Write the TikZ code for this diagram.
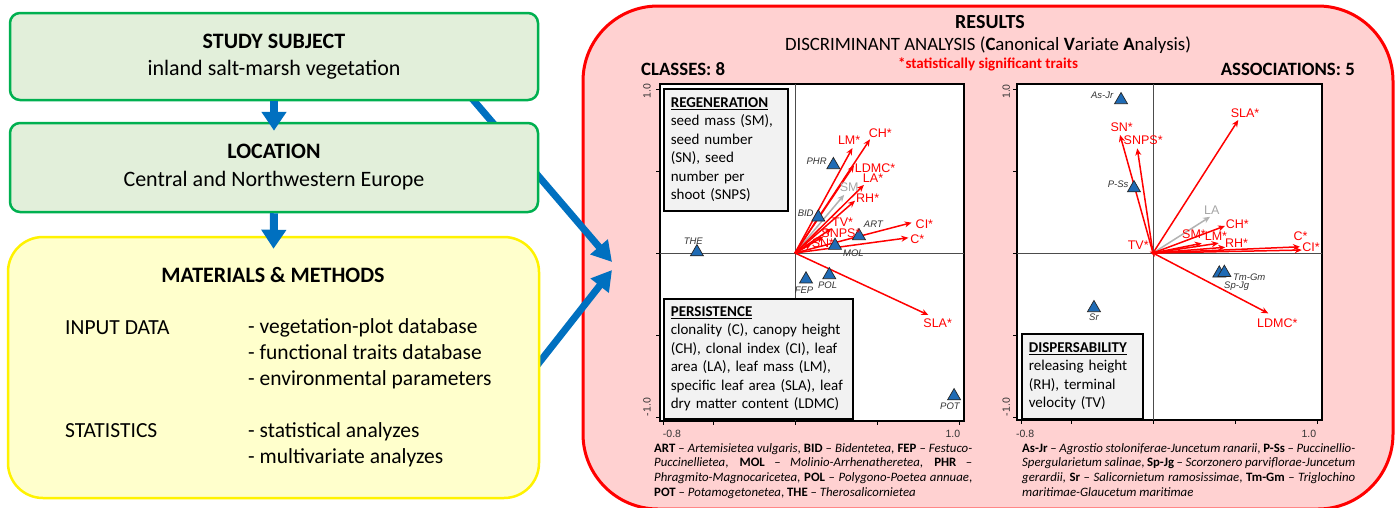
\documentclass[tikz,border=0pt]{standalone}
\usepackage{fontspec}
\setmainfont{Carlito}
\newfontfamily\plotfont{Liberation Sans}
\usetikzlibrary{arrows.meta,shapes.geometric,positioning}

\definecolor{flowblue}{HTML}{0070C0}
\definecolor{stagegreen}{HTML}{00B050}
\definecolor{stagefill}{HTML}{E2EFDA}
\definecolor{methodsfill}{HTML}{FFFFCC}
\definecolor{resultsfill}{HTML}{FFD1D1}
\definecolor{siteblue}{HTML}{1F6BB5}

\begin{document}
\begin{tikzpicture}[x=1pt, y=-1pt,
    stage/.style={draw=stagegreen, line width=2.5pt, fill=stagefill, rounded corners=10pt, minimum width=528pt, align=center, font=\fontsize{22}{27}\selectfont},
    flowarrow/.style={draw=flowblue, line width=8pt, -{Triangle[width=24pt,length=19pt]}},
    flowdiag/.style={draw=flowblue, line width=7pt, -{Triangle[width=22pt,length=20pt]}},
    listtext/.style={anchor=west, inner sep=0pt, align=left, font=\fontsize{21.5}{26}\selectfont},
    plotframe/.style={draw=black, line width=1.5pt, fill=white},
    zeroline/.style={draw=black!70, line width=0.8pt},
    axistick/.style={draw=black, line width=1pt},
    ticklab/.style={font=\plotfont\fontsize{10.5}{12}\selectfont, text=black!80, inner sep=0pt},
    traitbox/.style={draw=black, line width=1.6pt, fill=black!5, anchor=north west, inner xsep=7pt, inner ysep=2pt, align=left, font=\fontsize{15}{18.5}\selectfont},
    site/.style={regular polygon, regular polygon sides=3, minimum size=15pt, inner sep=0pt, fill=siteblue, draw=black!85, line width=0.7pt},
    sitelab/.style={font=\plotfont\itshape\fontsize{9.5}{11}\selectfont, text=black!80, inner sep=0pt},
    vec/.style={draw=red, line width=1.5pt, -{Stealth[length=7pt,width=6pt]}},
    vecgray/.style={vec, draw=black!30},
    veclab/.style={font=\plotfont\fontsize{12.5}{14}\selectfont, text=red, inner sep=0pt},
    keytext/.style={anchor=north west, inner sep=0pt, align=justify, font=\fontsize{12.8}{14.7}\selectfont}]

\useasboundingbox (0,0) rectangle (1395,507);
\fill[white] (0,0) rectangle (1395,507);

\node[draw=red, line width=3pt, fill=resultsfill, rounded corners=75pt, minimum width=810pt, minimum height=503pt] (resultsbox) at (988,257.5) {};

\coordinate (subjectout) at (439,60);
\coordinate (methodsout) at (520,387);
\coordinate (in1) at (612,262);
\coordinate (in2) at (612,270);
\draw[flowdiag] (subjectout) -- (in1);
\draw[flowdiag] (methodsout) -- (in2);

\node[stage, minimum height=87pt] (subject) at (274,56.5) {\textbf{STUDY SUBJECT}\\inland salt-marsh vegetation};
\node[stage, minimum height=89pt] (location) at (274,167.5) {\textbf{LOCATION}\\[1pt]Central and Northwestern Europe};
\node[draw=yellow, line width=2.5pt, fill=methodsfill, rounded corners=35pt, minimum width=531pt, minimum height=261pt] (methods) at (273.5,367.5) {};

\draw[flowarrow] (subject.south) -- ([yshift=-9pt]location.north);
\draw[flowarrow] (location.south) -- ([yshift=-13pt]methods.north);

\node[font=\fontsize{22}{26}\selectfont\bfseries] (methodstitle) at (273,275) {MATERIALS \& METHODS};
\node[listtext] (inputdata) at (65,328) {INPUT DATA};
\node[listtext] (inputlist) at (248,354) {- vegetation-plot database\\- functional traits database\\- environmental parameters};
\node[listtext] (statistics) at (65,431) {STATISTICS};
\node[listtext] (statlist) at (248,444.5) {- statistical analyzes\\- multivariate analyzes};

\node[font=\fontsize{20}{22}\selectfont\bfseries] (resultstitle) at (990,22) {RESULTS};
\node[font=\fontsize{18.8}{20}\selectfont] (cva) at (988,45) {DISCRIMINANT ANALYSIS (\textbf{C}anonical \textbf{V}ariate \textbf{A}nalysis)};
\node[font=\fontsize{15}{15}\selectfont\bfseries, text=red] (signif) at (988,64) {*statistically significant traits};
\node[anchor=west, inner sep=0pt, font=\fontsize{18.8}{22}\selectfont\bfseries] (classes) at (641,69) {CLASSES: 8};
\node[anchor=east, inner sep=0pt, font=\fontsize{18.8}{22}\selectfont\bfseries] (assoc) at (1355,69) {ASSOCIATIONS: 5};

% classes
\begin{scope}[shift={(795,253)}, x=164pt, y=164pt]
  \draw[plotframe] (-0.823,-1.024) rectangle (1.03,1.03);
  \draw[zeroline] (-0.823,0) -- (1.03,0);
  \draw[zeroline] (0,-1.024) -- (0,1.03);
  \foreach \t in {-0.8,-0.5,0,0.5,1} \draw[axistick] (\t,-1.024) -- ++(0pt,-4pt);
  \foreach \t in {-1,-0.5,0,0.5,1} \draw[axistick] (-0.823,\t) -- ++(-4pt,0pt);
  \node[ticklab] (xmin1) at (-0.75,-1.10) {-0.8};
  \node[ticklab] (xmax1) at (0.963,-1.10) {1.0};
  \node[ticklab, rotate=90] (ymax1) at (-0.902,0.988) {1.0};
  \node[ticklab, rotate=90] (ymin1) at (-0.902,-0.939) {-1.0};

  \coordinate (o1) at (0,0);
  \coordinate (sm1) at (0.30,0.355);
  \coordinate (ch1) at (0.457,0.693);
  \coordinate (lm1) at (0.35,0.64);
  \coordinate (ldmc1) at (0.36,0.535);
  \coordinate (la1) at (0.42,0.415);
  \coordinate (rh1) at (0.366,0.319);
  \coordinate (tv1) at (0.224,0.15);
  \coordinate (snps1) at (0.173,0.10);
  \coordinate (sn1) at (0.10,0.055);
  \coordinate (ci1) at (0.711,0.185);
  \coordinate (c1) at (0.691,0.093);
  \coordinate (sla1) at (0.813,-0.378);
  \draw[vecgray] (o1) -- (sm1);
  \draw[vec] (o1) -- (ch1);
  \draw[vec] (o1) -- (lm1);
  \draw[vec] (o1) -- (ldmc1);
  \draw[vec] (o1) -- (la1);
  \draw[vec] (o1) -- (rh1);
  \draw[vec] (o1) -- (tv1);
  \draw[vec] (o1) -- (snps1);
  \draw[vec] (o1) -- (sn1);
  \draw[vec] (o1) -- (ci1);
  \draw[vec] (o1) -- (c1);
  \draw[vec] (o1) -- (sla1);

  \node[site] (the) at (-0.598,0.006) {};
  \node[site] (phr) at (0.234,0.537) {};
  \node[site] (bid) at (0.142,0.218) {};
  \node[site] (art) at (0.39,0.104) {};
  \node[site] (mol) at (0.244,0.045) {};
  \node[site] (fep) at (0.067,-0.16) {};
  \node[site] (pol) at (0.209,-0.134) {};
  \node[site] (pot) at (0.97,-0.872) {};
  \node[sitelab] (thelab) at (-0.62,0.073) {THE};
  \node[sitelab] (phrlab) at (0.132,0.561) {PHR};
  \node[sitelab] (bidlab) at (0.065,0.242) {BID};
  \node[sitelab] (artlab) at (0.478,0.177) {ART};
  \node[sitelab] (mollab) at (0.356,-0.002) {MOL};
  \node[sitelab] (feplab) at (0.055,-0.226) {FEP};
  \node[sitelab] (pollab) at (0.199,-0.199) {POL};
  \node[sitelab] (potlab) at (0.945,-0.933) {POT};

  \node[veclab, text=black!35] (sm1lab) at (0.33,0.40) {SM};
  \node[veclab] (ch1lab) at (0.52,0.73) {CH*};
  \node[veclab] (lm1lab) at (0.33,0.685) {LM*};
  \node[veclab] (ldmc1lab) at (0.488,0.52) {LDMC*};
  \node[veclab] (la1lab) at (0.476,0.455) {LA*};
  \node[veclab] (rh1lab) at (0.443,0.333) {RH*};
  \node[veclab] (tv1lab) at (0.29,0.185) {TV*};
  \node[veclab] (snps1lab) at (0.28,0.12) {SNPS*};
  \node[veclab] (sn1lab) at (0.17,0.058) {SN*};
  \node[veclab] (ci1lab) at (0.789,0.177) {CI*};
  \node[veclab] (c1lab) at (0.746,0.083) {C*};
  \node[veclab] (sla1lab) at (0.87,-0.425) {SLA*};
\end{scope}

% associations
\begin{scope}[shift={(1153,253)}, x=164pt, y=164pt]
  \draw[plotframe] (-0.829,-1.018) rectangle (1.03,1.03);
  \draw[zeroline] (-0.829,0) -- (1.03,0);
  \draw[zeroline] (0,-1.018) -- (0,1.03);
  \foreach \t in {-0.8,-0.5,0,0.5,1} \draw[axistick] (\t,-1.018) -- ++(0pt,-4pt);
  \foreach \t in {-1,-0.5,0,0.5,1} \draw[axistick] (-0.829,\t) -- ++(-4pt,0pt);
  \node[ticklab] (xmin2) at (-0.78,-1.10) {-0.8};
  \node[ticklab] (xmax2) at (0.95,-1.10) {1.0};
  \node[ticklab, rotate=90] (ymax2) at (-0.895,0.985) {1.0};
  \node[ticklab, rotate=90] (ymin2) at (-0.895,-0.939) {-1.0};

  \coordinate (o2) at (0,0);
  \coordinate (la2) at (0.348,0.221);
  \coordinate (sn2) at (-0.201,0.72);
  \coordinate (snps2) at (-0.096,0.638);
  \coordinate (sla2) at (0.52,0.811);
  \coordinate (ch2) at (0.439,0.165);
  \coordinate (sm2) at (0.297,0.059);
  \coordinate (lm2) at (0.40,0.06);
  \coordinate (rh2) at (0.44,0.035);
  \coordinate (c2) at (0.896,0.038);
  \coordinate (ci2) at (0.907,0.018);
  \coordinate (tv2) at (-0.02,0.008);
  \coordinate (ldmc2) at (0.703,-0.368);
  \draw[vecgray] (o2) -- (la2);
  \draw[vec] (o2) -- (sn2);
  \draw[vec] (o2) -- (snps2);
  \draw[vec] (o2) -- (sla2);
  \draw[vec] (o2) -- (ch2);
  \draw[vec] (o2) -- (sm2);
  \draw[vec] (o2) -- (lm2);
  \draw[vec] (o2) -- (rh2);
  \draw[vec] (o2) -- (c2);
  \draw[vec] (o2) -- (ci2);
  \draw[vec] (o2) -- (tv2);
  \draw[vec] (o2) -- (ldmc2);

  \node[site] (asjr) at (-0.195,0.933) {};
  \node[site] (pss) at (-0.116,0.396) {};
  \node[site] (spjg) at (0.404,-0.124) {};
  \node[site] (tmgm) at (0.435,-0.12) {};
  \node[site] (sr) at (-0.36,-0.335) {};
  \node[sitelab] (asjrlab) at (-0.31,0.963) {As-Jr};
  \node[sitelab] (psslab) at (-0.213,0.42) {P-Ss};
  \node[sitelab] (tmgmlab) at (0.587,-0.148) {Tm-Gm};
  \node[sitelab] (spjglab) at (0.51,-0.20) {Sp-Jg};
  \node[sitelab] (srlab) at (-0.36,-0.392) {Sr};

  \node[veclab, text=black!35] (la2lab) at (0.358,0.262) {LA};
  \node[veclab] (sn2lab) at (-0.191,0.77) {SN*};
  \node[veclab] (snps2lab) at (-0.06,0.689) {SNPS*};
  \node[veclab] (sla2lab) at (0.561,0.852) {SLA*};
  \node[veclab] (ch2lab) at (0.514,0.177) {CH*};
  \node[veclab] (sm2lab) at (0.25,0.116) {SM*};
  \node[veclab] (lm2lab) at (0.384,0.10) {LM*};
  \node[veclab] (rh2lab) at (0.51,0.059) {RH*};
  \node[veclab] (c2lab) at (0.90,0.10) {C*};
  \node[veclab] (ci2lab) at (0.963,0.038) {CI*};
  \node[veclab] (tv2lab) at (-0.09,0.045) {TV*};
  \node[veclab] (ldmc2lab) at (0.758,-0.425) {LDMC*};
\end{scope}

\node[traitbox, text width=110pt, minimum height=122pt] (regeneration) at (663,88) {\underline{\textbf{REGENERATION}}\\seed mass (SM),\\seed number\\(SN), seed\\number per\\shoot (SNPS)};
\node[traitbox, text width=175pt, minimum height=120pt] (persistence) at (663,298) {\underline{\textbf{PERSISTENCE}}\\clonality (C), canopy height\\(CH), clonal index (CI), leaf\\area (LA), leaf mass (LM),\\specific leaf area (SLA), leaf\\dry matter content (LDMC)};
\node[traitbox, text width=107pt, minimum height=85pt] (dispersability) at (1021,333) {\underline{\textbf{DISPERSABILITY}}\\releasing height\\(RH), terminal\\velocity (TV)};

\node[keytext, text width=318pt] (classkey) at (654,443) {\textbf{ART} – \textit{Artemisietea vulgaris}, \textbf{BID} – \textit{Bidentetea}, \textbf{FEP} – \textit{Festuco-}\linebreak \textit{Puccinellietea}, \textbf{MOL} – \textit{Molinio-Arrhenatheretea}, \textbf{PHR} –\linebreak \textit{Phragmito-Magnocaricetea}, \textbf{POL} – \textit{Polygono-Poetea annuae},\linebreak \textbf{POT} – \textit{Potamogetonetea}, \textbf{THE} – \textit{Therosalicornietea}};
\node[keytext, text width=333pt] (assockey) at (1022,443) {\textbf{As-Jr} – \textit{Agrostio stoloniferae-Juncetum ranarii}, \textbf{P-Ss} – \textit{Puccinellio-}\linebreak \textit{Spergularietum salinae}, \textbf{Sp-Jg} – \textit{Scorzonero parviflorae-Juncetum}\linebreak \textit{gerardii}, \textbf{Sr} – \textit{Salicornietum ramosissimae}, \textbf{Tm-Gm} – \textit{Triglochino}\linebreak \textit{maritimae-Glaucetum maritimae}};
\end{tikzpicture}
\end{document}
